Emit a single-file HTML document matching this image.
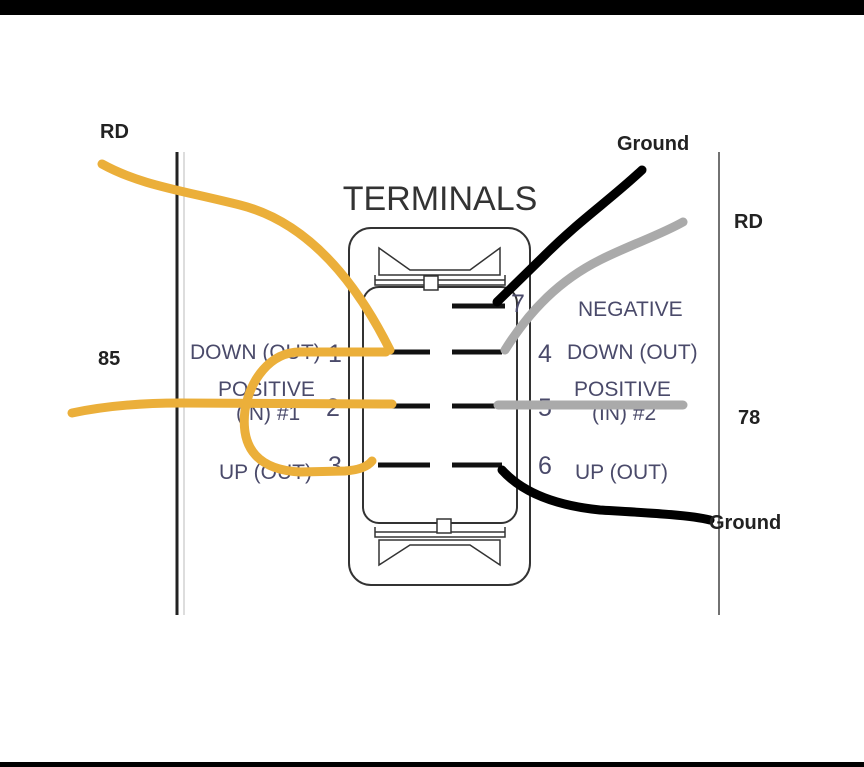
<!DOCTYPE html>
<html><head><style>
body{margin:0;width:864px;height:767px;overflow:hidden;background:#fff}
svg{display:block}
.t{font-family:"Liberation Sans",sans-serif;fill:#4a4a6a}
.h{font-family:"Liberation Sans",sans-serif;font-weight:bold;fill:#222}
</style></head><body>
<svg width="864" height="767" viewBox="0 0 864 767">
<rect x="0" y="0" width="864" height="15" fill="#000"/>
<rect x="0" y="762" width="864" height="5" fill="#000"/>
<line x1="177" y1="152" x2="177" y2="615" stroke="#222" stroke-width="3"/>
<line x1="184" y1="152" x2="184" y2="615" stroke="#bbb" stroke-width="1"/>
<line x1="719" y1="152" x2="719" y2="615" stroke="#444" stroke-width="1.5"/>
<text x="440" y="210" text-anchor="middle" class="t" font-size="34" style="fill:#333">TERMINALS</text>
<rect x="349" y="228" width="181" height="357" rx="22" fill="none" stroke="#333" stroke-width="2"/>
<rect x="363" y="287" width="154" height="236" rx="16" fill="none" stroke="#333" stroke-width="2"/>
<g fill="none" stroke="#333" stroke-width="1.5">
<path d="M379 248 L379 275 L500 275 L500 248 L470 270 L410 270 Z"/>
<path d="M375 280 L505 280 M375 275 L375 285 L505 285 L505 275"/>
<rect x="424" y="276" width="14" height="14" fill="#fff"/>
<path d="M379 565 L379 540 L500 540 L500 565 L470 545 L410 545 Z"/>
<path d="M375 532 L505 532 M375 527 L375 537 L505 537 L505 527"/>
<rect x="437" y="519" width="14" height="14" fill="#fff"/>
</g>
<g stroke="#111" stroke-width="5">
<line x1="452" y1="306" x2="505" y2="306"/>
<line x1="380" y1="352" x2="430" y2="352"/><line x1="452" y1="352" x2="502" y2="352"/>
<line x1="380" y1="406" x2="430" y2="406"/><line x1="452" y1="406" x2="502" y2="406"/>
<line x1="378" y1="465" x2="430" y2="465"/><line x1="452" y1="465" x2="502" y2="465"/>
</g>
<g class="t" font-size="21">
<text x="190" y="359">DOWN (OUT)</text><text x="328" y="362" font-size="25">1</text>
<text x="218" y="396">POSITIVE</text><text x="236" y="420">(IN) #1</text><text x="326" y="416" font-size="25">2</text>
<text x="219" y="479">UP (OUT)</text><text x="328" y="474" font-size="25">3</text>
<text x="578" y="316">NEGATIVE</text><text x="511" y="312" font-size="25">7</text>
<text x="567" y="359">DOWN (OUT)</text><text x="538" y="362" font-size="25">4</text>
<text x="574" y="396">POSITIVE</text><text x="592" y="420">(IN) #2</text><text x="538" y="416" font-size="25">5</text>
<text x="575" y="479">UP (OUT)</text><text x="538" y="474" font-size="25">6</text>
</g>
<g fill="none" stroke-linecap="round" stroke-width="9">
<path d="M102 164 C140 185 180 190 240 205 C300 220 350 270 390 350" stroke="#EBAF3A"/>
<path d="M386 352 L300 352 C270 352 250 380 245 410 C240 450 260 470 300 472 L345 471 C360 470 368 466 372 461" stroke="#EBAF3A"/>
<path d="M72 413 C110 405 150 403 180 403 L392 404" stroke="#EBAF3A"/>
<path d="M497 302 L545 255 C580 220 610 200 642 170" stroke="#000"/>
<path d="M505 350 C530 310 560 280 600 260 C630 245 660 235 683 222" stroke="#aaa"/>
<path d="M498 405 L683 405" stroke="#aaa"/>
<path d="M502 470 C520 490 550 505 600 510 C650 513 690 515 710 520" stroke="#000"/>
</g>
<g class="h" font-size="20">
<text x="100" y="138">RD</text><text x="98" y="365">85</text>
<text x="617" y="150">Ground</text><text x="734" y="228">RD</text>
<text x="738" y="424">78</text><text x="709" y="529">Ground</text>
</g>
</svg>
</body></html>
